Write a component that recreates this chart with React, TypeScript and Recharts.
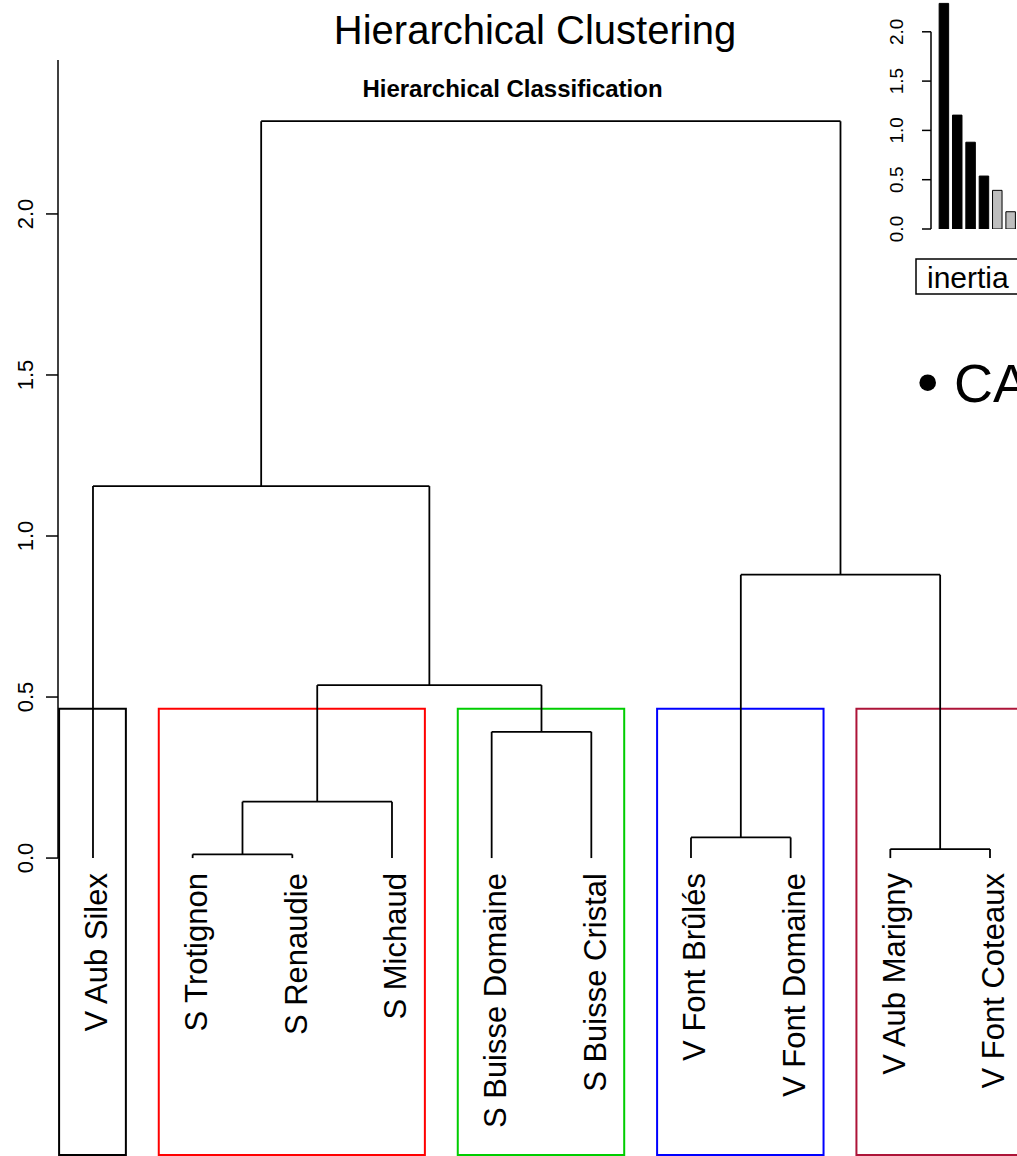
import React from 'react';
import {
  ComposedChart,
  Bar,
  Cell,
  Scatter,
  XAxis,
  YAxis,
  ReferenceLine,
  ReferenceArea,
} from 'recharts';

// leaves in dendrogram order
const leafLabels = [
  'V Aub Silex',
  'S Trotignon',
  'S Renaudie',
  'S Michaud',
  'S Buisse Domaine',
  'S Buisse Cristal',
  'V Font Brûlés',
  'V Font Domaine',
  'V Aub Marigny',
  'V Font Coteaux',
];

// merge table, hclust style: negative = leaf position, positive = earlier merge
const mergeLeft = [-2, -9, -7, 1, -5, 4, 3, -1, 8];
const mergeRight = [-3, -10, -8, -4, -6, 5, 2, 6, 7];
const mergeHeights = [0.0115, 0.028, 0.064, 0.175, 0.392, 0.537, 0.88, 1.155, 2.288];

// cluster boxes (leaf units)
const clusterStart = [0.66, 1.66, 4.66, 6.66, 8.66];
const clusterEnd = [1.33, 4.33, 6.33, 8.33, 10.33];
const clusterColors = ['#000000', '#FF0000', '#00CD00', '#0000FF', '#AD1438'];
const cutHeight = 0.464;

const yTicks = [0, 0.5, 1, 1.5, 2];

// inertia gain barplot (inset)
const inertiaGain = [2.288, 1.155, 0.88, 0.537, 0.392, 0.175, 0.064, 0.028, 0.0115];
const inertiaTicks = [0, 0.5, 1, 1.5, 2];
const nbClusters = 5;

const X_MIN = 0.649;
const X_MAX = 10.271;
const Y_MIN = -0.922;
const Y_MAX = 2.478;

const leafData = leafLabels.map((name, i) => ({ x: i + 1, y: 0, name }));
const barData = inertiaGain.map((value, i) => ({ idx: i + 1, value }));

type Seg = { x1: number; y1: number; x2: number; y2: number };

const buildSegments = (): Seg[] => {
  const nodeX: number[] = [];
  const nodeH: number[] = [];
  const pos = (id: number) =>
    id < 0 ? { x: -id, h: 0 } : { x: nodeX[id - 1], h: nodeH[id - 1] };
  const segs: Seg[] = [];
  mergeLeft.forEach((l, i) => {
    const a = pos(l);
    const b = pos(mergeRight[i]);
    const h = mergeHeights[i];
    segs.push({ x1: a.x, y1: a.h, x2: a.x, y2: h });
    segs.push({ x1: b.x, y1: b.h, x2: b.x, y2: h });
    segs.push({ x1: a.x, y1: h, x2: b.x, y2: h });
    nodeX.push((a.x + b.x) / 2);
    nodeH.push(h);
  });
  return segs;
};

const segments = buildSegments();

const FONT = '"Liberation Sans", Arial, Helvetica, sans-serif';

const makeRotatedTick = (offset: number, size: number) => (props: any) => {
  const { x, y, payload } = props;
  const bx = x + offset;
  return (
    <text
      x={bx}
      y={y}
      transform={`rotate(-90 ${bx} ${y})`}
      textAnchor="middle"
      fontSize={size}
      fontFamily={FONT}
      fill="#000"
    >
      {Number(payload.value).toFixed(1)}
    </text>
  );
};

const LeafLabel = (props: any) => {
  const { cx, cy, payload } = props;
  const ax = cx + 14.5;
  const ay = cy + 15;
  return (
    <text
      x={ax}
      y={ay}
      transform={`rotate(-90 ${ax} ${ay})`}
      textAnchor="end"
      fontSize={31}
      fontFamily={FONT}
      fill="#000"
    >
      {payload.name}
    </text>
  );
};

const App: React.FC = () => {
  return (
    <div
      style={{
        position: 'absolute',
        left: 0,
        top: 0,
        width: 1017,
        height: 1156,
        overflow: 'hidden',
        background: '#fff',
        fontFamily: FONT,
      }}
    >
      <div style={{ position: 'absolute', left: 0, top: 0 }}>
        <ComposedChart
          width={1017}
          height={1156}
          data={leafData}
          margin={{ top: 60, right: 0, bottom: 1, left: 0 }}
        >
          <XAxis type="number" dataKey="x" domain={[X_MIN, X_MAX]} hide allowDataOverflow />
          <YAxis
            type="number"
            dataKey="y"
            domain={[Y_MIN, Y_MAX]}
            ticks={yTicks}
            interval={0}
            width={58}
            axisLine={false}
            tickSize={12}
            tickLine={{ stroke: '#000', strokeWidth: 1.5 }}
            tick={makeRotatedTick(-11, 22)}
            allowDataOverflow
          />
          {clusterStart.map((s, i) => (
            <ReferenceArea
              key={`box-${i}`}
              x1={s}
              x2={clusterEnd[i]}
              y1={Y_MIN}
              y2={cutHeight}
              fill="none"
              fillOpacity={0}
              stroke={clusterColors[i]}
              strokeWidth={2}
              ifOverflow="visible"
            />
          ))}
          <ReferenceLine
            segment={[
              { x: X_MIN, y: 0 },
              { x: X_MIN, y: Y_MAX },
            ]}
            stroke="#000"
            strokeWidth={1.5}
            ifOverflow="visible"
          />
          {segments.map((s, i) => (
            <ReferenceLine
              key={`seg-${i}`}
              segment={[
                { x: s.x1, y: s.y1 },
                { x: s.x2, y: s.y2 },
              ]}
              stroke="#000"
              strokeWidth={1.8}
              ifOverflow="visible"
            />
          ))}
          <Scatter
            dataKey="y"
            isAnimationActive={false}
            shape={(p: any) => <LeafLabel {...p} />}
          />
        </ComposedChart>
      </div>

      {/* inset: inertia gain */}
      <div style={{ position: 'absolute', left: 860, top: 0 }}>
        <ComposedChart
          width={199}
          height={255}
          data={barData}
          margin={{ top: 0, right: 0, bottom: 26, left: 0 }}
        >
          <XAxis type="number" dataKey="idx" domain={[0.04, 9.628]} hide allowDataOverflow />
          <YAxis
            type="number"
            domain={[0, 2.3225]}
            ticks={inertiaTicks}
            interval={0}
            width={71}
            axisLine={false}
            tickSize={9}
            tickLine={{ stroke: '#000', strokeWidth: 1.5 }}
            tick={makeRotatedTick(-17, 19)}
            allowDataOverflow
          />
          <ReferenceLine
            segment={[
              { x: 0.04, y: 0 },
              { x: 0.04, y: 2 },
            ]}
            stroke="#000"
            strokeWidth={1.5}
            ifOverflow="visible"
          />
          <Bar dataKey="value" barSize={9.5} stroke="#000" strokeWidth={1} isAnimationActive={false}>
            {barData.map((d, i) => (
              <Cell key={`bar-${d.idx}`} fill={i < nbClusters - 1 ? '#000000' : '#BEBEBE'} />
            ))}
          </Bar>
        </ComposedChart>
      </div>

      <svg
        width={1017}
        height={1156}
        style={{ position: 'absolute', left: 0, top: 0, pointerEvents: 'none' }}
      >
        <text x={535} y={43.5} textAnchor="middle" fontSize={40} fontFamily={FONT} fill="#000">
          Hierarchical Clustering
        </text>
        <text
          x={512.5}
          y={96.5}
          textAnchor="middle"
          fontSize={24}
          fontWeight="bold"
          fontFamily={FONT}
          fill="#000"
        >
          Hierarchical Classification
        </text>
        <rect x={916} y={259} width={106} height={35} fill="none" stroke="#000" strokeWidth={1.5} />
        <text x={927} y={288} fontSize={30} fontFamily={FONT} fill="#000">
          inertia
        </text>
        <circle cx={927.7} cy={382.7} r={8.3} fill="#000" />
        <text x={954} y={402} fontSize={54} fontFamily={FONT} fill="#000">
          CA
        </text>
      </svg>
    </div>
  );
};

export default App;
